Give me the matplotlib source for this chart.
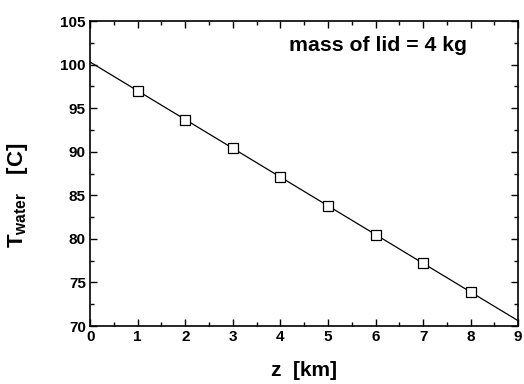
import matplotlib
matplotlib.use("Agg")
import matplotlib.pyplot as plt
from matplotlib.ticker import MultipleLocator

# data
z_fit = [0, 9]
T_fit = [100.3, 70.6]
z_pts = [1, 2, 3, 4, 5, 6, 7, 8]
T_pts = [97.0, 93.7, 90.4, 87.1, 83.8, 80.5, 77.2, 73.9]

plt.rcParams["font.family"] = ["Liberation Sans", "DejaVu Sans"]
plt.rcParams["font.weight"] = "bold"
plt.rcParams["mathtext.fontset"] = "custom"
plt.rcParams["mathtext.rm"] = "Liberation Sans:bold"
plt.rcParams["mathtext.bf"] = "Liberation Sans:bold"

fig = plt.figure(figsize=(5.24, 3.84), dpi=100)
ax = fig.add_axes([0.172, 0.151, 0.817, 0.794])

ax.plot(z_fit, T_fit, color="black", lw=0.9)
ax.plot(z_pts, T_pts, ls="none", marker="s", ms=7, mfc="white", mec="black", mew=0.9)

ax.set_xlim(0, 9)
ax.set_ylim(70, 105)
ax.xaxis.set_major_locator(MultipleLocator(1))
ax.xaxis.set_minor_locator(MultipleLocator(0.5))
ax.yaxis.set_major_locator(MultipleLocator(5))
ax.yaxis.set_minor_locator(MultipleLocator(2.5))
ax.tick_params(which="both", direction="in", top=True, right=True, width=1)
ax.tick_params(which="major", length=5, labelsize=11, pad=3)
ax.tick_params(which="minor", length=3)
for lab in ax.get_xticklabels() + ax.get_yticklabels():
    lab.set_fontweight("bold")
for s in ax.spines.values():
    s.set_linewidth(1.2)

ax.set_xlabel("z  [km]", fontsize=15, fontweight="bold", labelpad=12)
ax.set_ylabel(r"$\mathrm{T_{water}}$   [C]", fontsize=16, fontweight="bold")
ax.yaxis.set_label_coords(-0.14, 0.43)
ax.text(4.18, 102.2, "mass of lid = 4 kg", fontsize=15.3, fontweight="bold", va="center")

fig.savefig("out.png", dpi=100)
